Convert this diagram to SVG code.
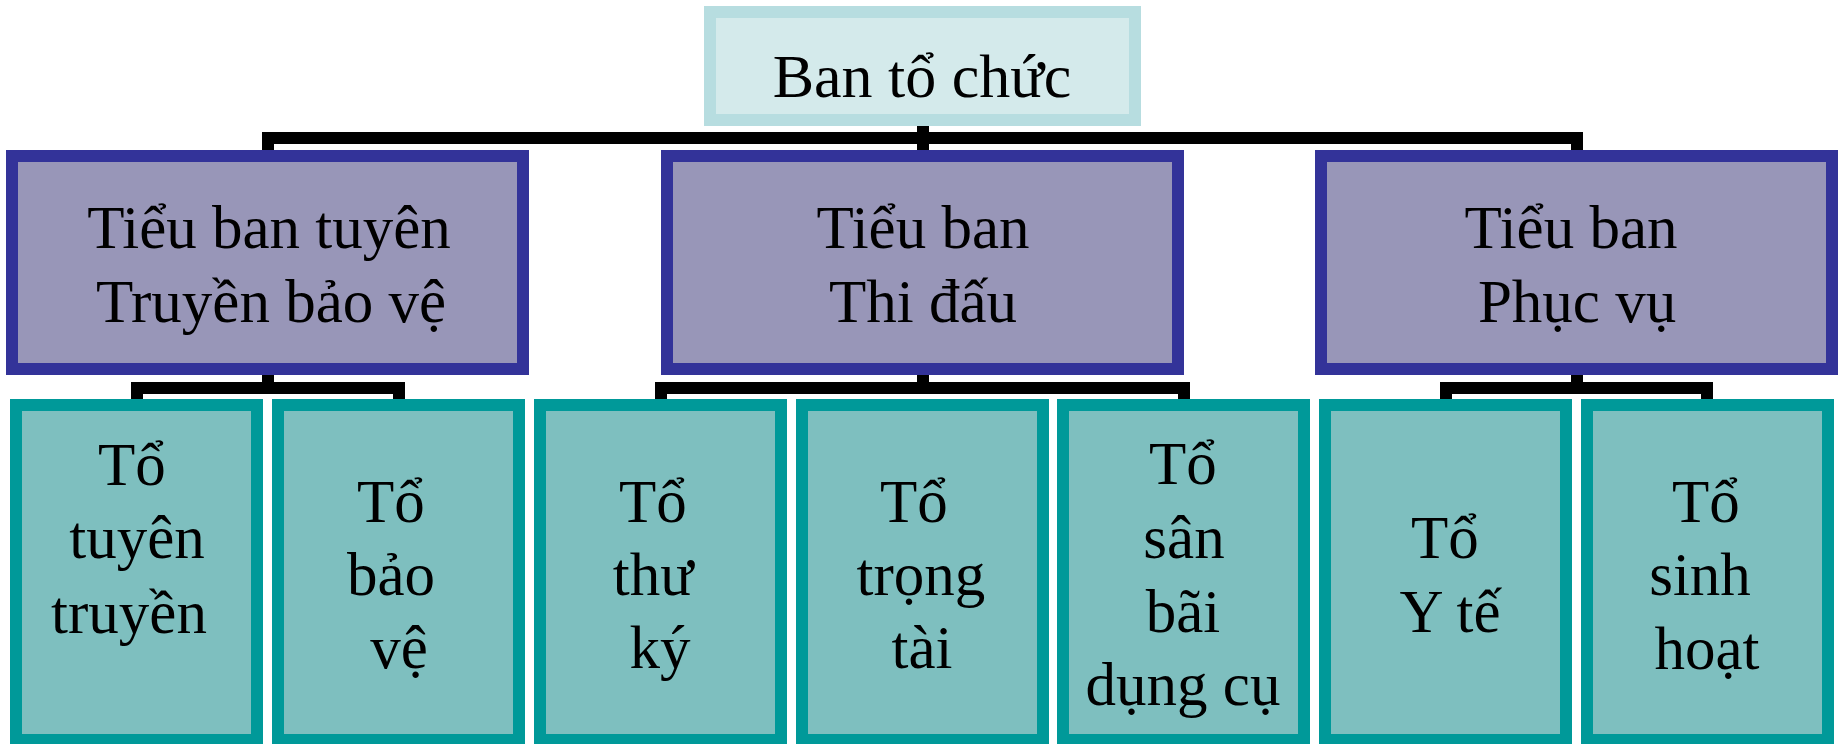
<svg xmlns="http://www.w3.org/2000/svg" width="1839" height="744" viewBox="0 0 1839 744">
  <style>
    .lbl { font-family: "Liberation Serif", "Times New Roman", serif; font-size: 61px; fill: #000; text-anchor: middle; }
    .top rect { fill: #d4eaeb; stroke: #b7dde0; stroke-width: 12; }
    .sub rect { fill: #9896b8; stroke: #333399; stroke-width: 12; }
    .team rect { fill: #7ebfbf; stroke: #009999; stroke-width: 12; }
    .links path { fill: none; stroke: #000; stroke-width: 12; stroke-linejoin: miter; }
  </style>
  <rect width="1839" height="744" fill="#fff"/>

  <!-- connectors -->
  <g id="connectors" class="links">
    <path d="M923,126 V150"/>
    <path d="M268,150 V138 H1577 V150"/>
    <path d="M268,375 V388"/>
    <path d="M137,399 V388 H399 V399"/>
    <path d="M923,375 V388"/>
    <path d="M661,399 V388 H1184 V399"/>
    <path d="M1577,375 V388"/>
    <path d="M1446,399 V388 H1707 V399"/>
  </g>

  <!-- root -->
  <g id="ban-to-chuc" class="top">
    <rect x="710" y="12" width="425" height="108"/>
    <text class="lbl" x="922" y="97" style="font-size:62px">Ban tổ chức</text>
  </g>

  <!-- sub-committees -->
  <g id="tieu-ban-tuyen-truyen" class="sub">
    <rect x="12" y="156" width="511" height="213"/>
    <text class="lbl" x="269" y="248">Tiểu ban tuyên</text>
    <text class="lbl" x="271" y="322">Truyền bảo vệ</text>
  </g>
  <g id="tieu-ban-thi-dau" class="sub">
    <rect x="667" y="156" width="511" height="213"/>
    <text class="lbl" x="923" y="248">Tiểu ban</text>
    <text class="lbl" x="923" y="322">Thi đấu</text>
  </g>
  <g id="tieu-ban-phuc-vu" class="sub">
    <rect x="1321" y="156" width="511" height="213"/>
    <text class="lbl" x="1571" y="248">Tiểu ban</text>
    <text class="lbl" x="1577" y="322">Phục vụ</text>
  </g>

  <!-- teams -->
  <g id="to-tuyen-truyen" class="team">
    <rect x="16" y="405" width="241" height="335"/>
    <text class="lbl" x="132" y="485">Tổ</text>
    <text class="lbl" x="137" y="558">tuyên</text>
    <text class="lbl" x="129" y="633">truyền</text>
  </g>
  <g id="to-bao-ve" class="team">
    <rect x="278" y="405" width="241" height="335"/>
    <text class="lbl" x="391" y="522">Tổ</text>
    <text class="lbl" x="391" y="595">bảo</text>
    <text class="lbl" x="399" y="668">vệ</text>
  </g>
  <g id="to-thu-ky" class="team">
    <rect x="540" y="405" width="241" height="335"/>
    <text class="lbl" x="653" y="522">Tổ</text>
    <text class="lbl" x="653" y="595">thư</text>
    <text class="lbl" x="660" y="668">ký</text>
  </g>
  <g id="to-trong-tai" class="team">
    <rect x="802" y="405" width="241" height="335"/>
    <text class="lbl" x="914" y="522">Tổ</text>
    <text class="lbl" x="921" y="595">trọng</text>
    <text class="lbl" x="922" y="668">tài</text>
  </g>
  <g id="to-san-bai-dung-cu" class="team">
    <rect x="1063" y="405" width="241" height="335"/>
    <text class="lbl" x="1183" y="484">Tổ</text>
    <text class="lbl" x="1184" y="558">sân</text>
    <text class="lbl" x="1183" y="632">bãi</text>
    <text class="lbl" x="1183" y="705">dụng cụ</text>
  </g>
  <g id="to-y-te" class="team">
    <rect x="1325" y="405" width="241" height="335"/>
    <text class="lbl" x="1445" y="558">Tổ</text>
    <text class="lbl" x="1450" y="632">Y tế</text>
  </g>
  <g id="to-sinh-hoat" class="team">
    <rect x="1587" y="405" width="241" height="335"/>
    <text class="lbl" x="1706" y="522">Tổ</text>
    <text class="lbl" x="1700" y="595">sinh</text>
    <text class="lbl" x="1707" y="669">hoạt</text>
  </g>
</svg>
